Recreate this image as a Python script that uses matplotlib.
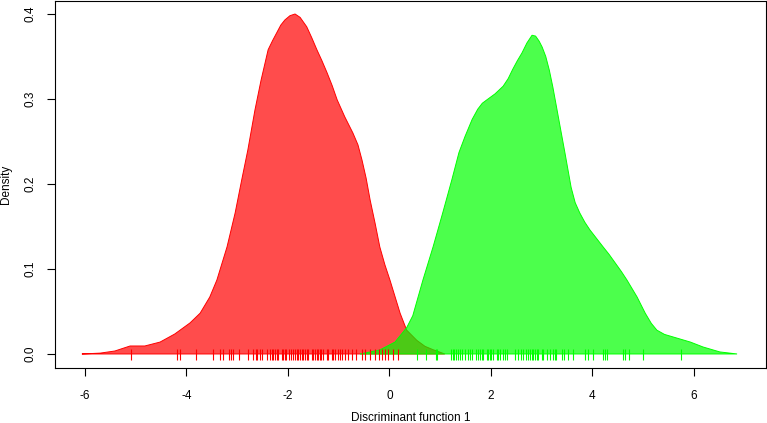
import matplotlib
matplotlib.use('Agg')
import matplotlib.pyplot as plt

plt.rcParams['font.family'] = ['Liberation Sans', 'DejaVu Sans']

# density curves (x, density)
red_x = [-6.06, -5.70, -5.41, -5.11, -4.82, -4.52, -4.23, -3.93, -3.73, -3.54, -3.40,
         -3.20, -3.04, -2.91, -2.79, -2.65, -2.53, -2.39, -2.30, -2.22, -2.14, -2.06,
         -1.96, -1.86, -1.76, -1.63, -1.53, -1.43, -1.33, -1.23, -1.13, -1.03, -0.88,
         -0.72, -0.62, -0.54, -0.46, -0.38, -0.28, -0.19, -0.09, 0.01, 0.21, 0.34,
         0.54, 0.70, 0.86, 1.09]
red_y = [0.0, 0.001, 0.0035, 0.0094, 0.0094, 0.014, 0.0235, 0.0365, 0.048, 0.067, 0.087,
         0.126, 0.166, 0.205, 0.240, 0.287, 0.322, 0.358, 0.369, 0.378, 0.387, 0.393,
         0.398, 0.400, 0.396, 0.385, 0.372, 0.358, 0.345, 0.331, 0.316, 0.299, 0.279,
         0.260, 0.246, 0.228, 0.207, 0.181, 0.153, 0.126, 0.105, 0.087, 0.048, 0.028,
         0.016, 0.009, 0.005, 0.0]

green_x = [-0.58, -0.19, 0.11, 0.34, 0.46, 0.66, 0.86, 1.05, 1.23, 1.37, 1.49, 1.63,
           1.74, 1.83, 1.92, 2.08, 2.24, 2.34, 2.43, 2.52, 2.61, 2.71, 2.81, 2.88,
           2.95, 3.01, 3.08, 3.15, 3.22, 3.34, 3.46, 3.58, 3.66, 3.75, 3.85, 3.95,
           4.08, 4.21, 4.33, 4.45, 4.57, 4.68, 4.88, 5.04, 5.16, 5.27, 5.42, 5.59,
           5.76, 5.93, 6.18, 6.51, 6.85]
green_y = [0.0, 0.0047, 0.014, 0.031, 0.045, 0.087, 0.126, 0.166, 0.205, 0.237, 0.256,
           0.276, 0.288, 0.295, 0.299, 0.306, 0.315, 0.324, 0.335, 0.345, 0.354, 0.366,
           0.375, 0.374, 0.368, 0.361, 0.350, 0.334, 0.314, 0.275, 0.236, 0.196, 0.178,
           0.166, 0.155, 0.146, 0.136, 0.126, 0.117, 0.107, 0.097, 0.087, 0.067, 0.048,
           0.036, 0.028, 0.023, 0.020, 0.017, 0.014, 0.0082, 0.0024, 0.0]

# rug (observations)
red_rug = [-5.09, -4.18, -4.13, -3.81, -3.47, -3.33, -3.27, -3.16, -3.12, -3.08, -2.96,
           -2.78, -2.68, -2.62, -2.60, -2.55, -2.52, -2.42, -2.35, -2.32, -2.29, -2.26,
           -2.22, -2.19, -2.12, -2.09, -2.06, -2.03, -1.98, -1.93, -1.90, -1.86, -1.83,
           -1.80, -1.76, -1.73, -1.70, -1.67, -1.63, -1.60, -1.53, -1.51, -1.47, -1.43,
           -1.40, -1.37, -1.34, -1.30, -1.24, -1.21, -1.14, -1.11, -1.07, -1.01, -0.98,
           -0.94, -0.88, -0.81, -0.74, -0.65, -0.55, -0.48, -0.38, -0.29, -0.20, -0.15,
           -0.09, -0.02, 0.07, 0.17]
green_rug = [0.55, 0.73, 0.92, 0.93, 1.21, 1.25, 1.28, 1.31, 1.36, 1.39, 1.42, 1.49,
             1.54, 1.59, 1.62, 1.70, 1.74, 1.78, 1.82, 1.85, 1.92, 1.95, 1.98, 2.01,
             2.05, 2.11, 2.14, 2.18, 2.24, 2.28, 2.31, 2.47, 2.54, 2.60, 2.64, 2.70,
             2.74, 2.77, 2.80, 2.83, 2.87, 2.90, 2.93, 3.00, 3.03, 3.10, 3.16, 3.23,
             3.26, 3.29, 3.41, 3.44, 3.52, 3.62, 3.85, 3.92, 4.02, 4.21, 4.25, 4.28,
             4.60, 4.64, 4.73, 4.99, 5.74]

xticks = [-6, -4, -2, 0, 2, 4, 6]
yticks = [0.0, 0.1, 0.2, 0.3, 0.4]

fig = plt.figure(figsize=(7.67, 4.23), dpi=100)
ax = fig.add_axes([55 / 767, 1 - 368 / 423, 711 / 767, 367 / 423])

ax.fill(red_x, red_y, facecolor=(1, 0, 0, 0.7), edgecolor='red', lw=0.7)
ax.fill(green_x, green_y, facecolor=(0, 1, 0, 0.7), edgecolor=(0, 1, 0), lw=0.7)

ax.vlines(red_rug, -0.007, 0.006, color='red', lw=0.8)
ax.vlines(green_rug, -0.007, 0.006, color=(0, 1, 0), lw=0.8)

ax.set_xlim(-6.59, 7.42)
ax.set_ylim(-0.0165, 0.4153)
ax.set_xticks(xticks)
ax.set_xticklabels([str(t) for t in xticks])
ax.set_yticks(yticks)
ax.set_yticklabels(['%.1f' % t for t in yticks])
ax.tick_params(axis='both', direction='out', length=6, width=0.8, labelsize=8.5)
ax.tick_params(axis='x', pad=10)
ax.tick_params(axis='y', pad=7)
for lab in ax.get_yticklabels():
    lab.set_rotation(90)
    lab.set_va('center')
for s in ax.spines.values():
    s.set_linewidth(0.8)

fig.text(411 / 767, 1 - 418 / 423, 'Discriminant function 1', ha='center', va='center', fontsize=8.5)
fig.text(6 / 767, 1 - 184 / 423, 'Density', ha='center', va='center', rotation=90, fontsize=8.5)

fig.savefig('out.png', dpi=100)
